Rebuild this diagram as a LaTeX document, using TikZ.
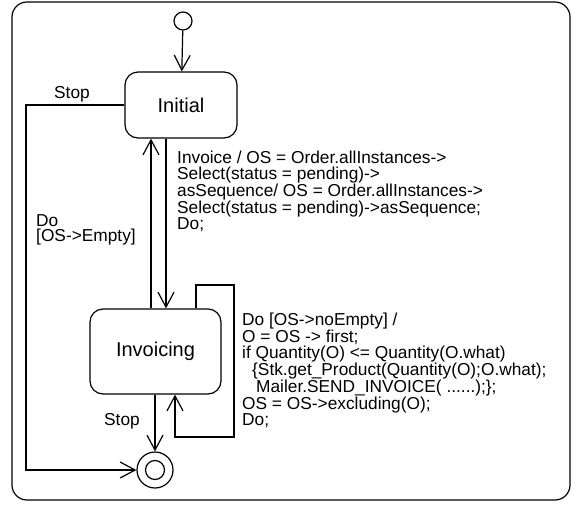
\documentclass[tikz,border=0pt]{standalone}
\usepackage{fontspec}
\setmainfont{Liberation Sans}
\usetikzlibrary{arrows.meta}
\tikzset{
  state/.style={draw, rounded corners=13pt, line width=1.2pt, font=\fontsize{20}{22}\selectfont},
  lbl/.style={font=\fontsize{17.3}{15.6}\selectfont, align=left, inner sep=0pt},
  trans/.style={line width=1.2pt, ->},
}
\begin{document}
\begin{tikzpicture}[x=1pt, y=-1pt, >={Straight Barb[length=15pt, width=16pt, line width=1.2pt]}]
    \useasboundingbox (0,0) rectangle (573,504);
    % Cadre du diagramme
    \draw[line width=1.2pt, rounded corners=15pt] (12,2) rectangle (570,500);

    % Etats
    \node[draw, circle, line width=1.2pt, minimum size=18pt, inner sep=0pt] (debut) at (183,21) {};
    \node[state, minimum width=112pt, minimum height=66pt] (initial) at (181,105) {Initial};
    \node[state, minimum width=131pt, minimum height=85pt] (invoicing) at (155.5,351.5) {Invoicing};
    \node[draw, circle, line width=1.2pt, minimum size=36pt, inner sep=0pt] (fin) at (155,470) {};
    \node[draw, circle, line width=1.2pt, minimum size=19pt, inner sep=0pt] at (fin) {};

    % Points de passage
    \coordinate (stopA) at (26,105);
    \coordinate (stopB) at (26,470);
    \coordinate (boucleA) at (196,285);
    \coordinate (boucleB) at (234,285);
    \coordinate (boucleC) at (234,437);
    \coordinate (boucleD) at (175,437);

    % Transitions
    \draw[trans] (debut) -- (initial);
    \draw[trans] (initial.west) -- (stopA) -- (stopB) -- (fin.west);
    \draw[trans] (initial.south -| 166,0) -- (invoicing.north -| 166,0);
    \draw[trans] (invoicing.north -| 151,0) -- (initial.south -| 151,0);
    \draw[trans] (invoicing.north -| boucleA) -- (boucleA) -- (boucleB) -- (boucleC) -- (boucleD) -- (invoicing.south -| boucleD);
    \draw[trans] (invoicing.south -| fin) -- (fin.north);

    % Etiquettes
    \node[lbl] (stop1) at (72,94) {Stop};
    \node[lbl] (stop2) at (122,421) {Stop};
    \node[lbl, anchor=north west] (garde) at (36,214) {Do\\{}[OS->Empty]};
    \node[lbl, anchor=north west] (action1) at (177,151) {Invoice / OS = Order.allInstances->\\
      Select(status = pending)->\\
      asSequence/ OS = Order.allInstances->\\
      Select(status = pending)->asSequence;\\
      Do;};
    \node[lbl, anchor=north west] (action2) at (242,313) {Do [OS->noEmpty] /\\
      O = OS -> first;\\
      if Quantity(O) <= Quantity(O.what)\\
      \hspace{10pt}\{Stk.get\_Product(Quantity(O);O.what);\\
      \hspace{14pt}Mailer.SEND\_INVOICE( ......);\};\\
      OS = OS->excluding(O);\\
      Do;};
\end{tikzpicture}
\end{document}
